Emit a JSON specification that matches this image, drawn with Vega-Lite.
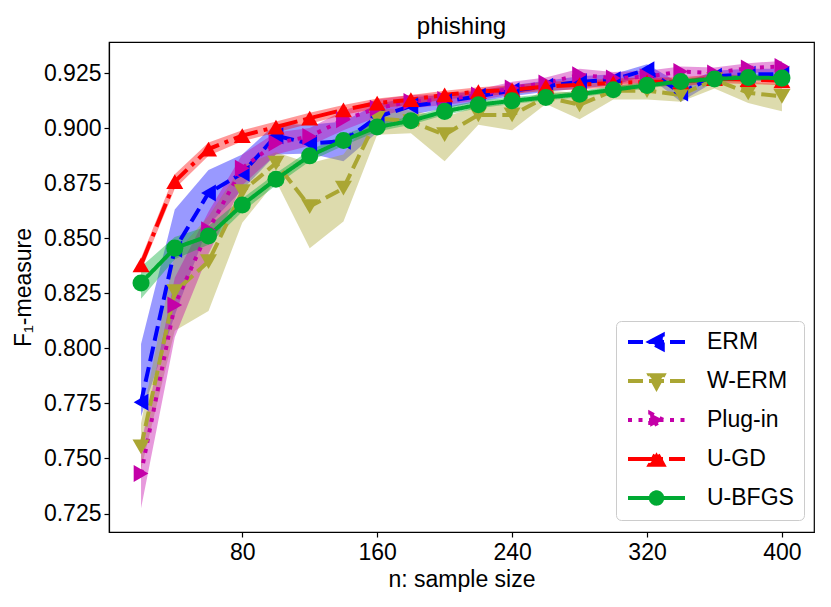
{
  "$schema": "https://vega.github.io/schema/vega-lite/v6.json",
  "width": 705,
  "height": 490,
  "autosize": {"type": "none"},
  "padding": {"left": 109, "top": 42, "right": 17, "bottom": 75},
  "background": "white",
  "title": {"text": "phishing", "fontSize": 24, "font": "Liberation Sans", "fontWeight": "normal", "color": "black", "offset": 3},
  "config": {
    "view": {"stroke": "black", "strokeWidth": 1.2},
    "axis": {
      "grid": false, "labelFont": "Liberation Sans", "titleFont": "Liberation Sans",
      "labelFontSize": 23, "titleFontSize": 23, "titleFontWeight": "normal",
      "labelColor": "black", "titleColor": "black", "domainColor": "black", "tickColor": "black",
      "tickSize": 5, "tickWidth": 1.2, "domainWidth": 1.2
    }
  },
  "data": {
    "values": [
      {"n": 20, "m": "ERM", "f": 0.7755, "lo": 0.769, "hi": 0.802},
      {"n": 40, "m": "ERM", "f": 0.845, "lo": 0.815, "hi": 0.863},
      {"n": 60, "m": "ERM", "f": 0.8705, "lo": 0.856, "hi": 0.881},
      {"n": 80, "m": "ERM", "f": 0.8795, "lo": 0.872, "hi": 0.888},
      {"n": 100, "m": "ERM", "f": 0.8965, "lo": 0.888, "hi": 0.902},
      {"n": 120, "m": "ERM", "f": 0.893, "lo": 0.8885, "hi": 0.9015},
      {"n": 140, "m": "ERM", "f": 0.894, "lo": 0.885, "hi": 0.903},
      {"n": 160, "m": "ERM", "f": 0.905, "lo": 0.898, "hi": 0.911},
      {"n": 180, "m": "ERM", "f": 0.91, "lo": 0.906, "hi": 0.914},
      {"n": 200, "m": "ERM", "f": 0.912, "lo": 0.909, "hi": 0.915},
      {"n": 220, "m": "ERM", "f": 0.9145, "lo": 0.912, "hi": 0.917},
      {"n": 240, "m": "ERM", "f": 0.917, "lo": 0.9145, "hi": 0.9195},
      {"n": 260, "m": "ERM", "f": 0.919, "lo": 0.9165, "hi": 0.9215},
      {"n": 280, "m": "ERM", "f": 0.921, "lo": 0.918, "hi": 0.9235},
      {"n": 300, "m": "ERM", "f": 0.922, "lo": 0.9195, "hi": 0.9245},
      {"n": 320, "m": "ERM", "f": 0.9265, "lo": 0.924, "hi": 0.929},
      {"n": 340, "m": "ERM", "f": 0.916, "lo": 0.912, "hi": 0.92},
      {"n": 360, "m": "ERM", "f": 0.9235, "lo": 0.921, "hi": 0.926},
      {"n": 380, "m": "ERM", "f": 0.9245, "lo": 0.922, "hi": 0.927},
      {"n": 400, "m": "ERM", "f": 0.9245, "lo": 0.922, "hi": 0.927},
      {"n": 20, "m": "W-ERM", "f": 0.7553, "lo": 0.745, "hi": 0.766},
      {"n": 40, "m": "W-ERM", "f": 0.8257, "lo": 0.808, "hi": 0.843},
      {"n": 60, "m": "W-ERM", "f": 0.8394, "lo": 0.817, "hi": 0.86},
      {"n": 80, "m": "W-ERM", "f": 0.8712, "lo": 0.857, "hi": 0.883},
      {"n": 100, "m": "W-ERM", "f": 0.8841, "lo": 0.876, "hi": 0.889},
      {"n": 120, "m": "W-ERM", "f": 0.8644, "lo": 0.8455, "hi": 0.884},
      {"n": 140, "m": "W-ERM", "f": 0.8727, "lo": 0.8576, "hi": 0.888},
      {"n": 160, "m": "W-ERM", "f": 0.9045, "lo": 0.897, "hi": 0.909},
      {"n": 180, "m": "W-ERM", "f": 0.903, "lo": 0.8977, "hi": 0.908},
      {"n": 200, "m": "W-ERM", "f": 0.897, "lo": 0.885, "hi": 0.905},
      {"n": 220, "m": "W-ERM", "f": 0.906, "lo": 0.9015, "hi": 0.91},
      {"n": 240, "m": "W-ERM", "f": 0.906, "lo": 0.899, "hi": 0.911},
      {"n": 260, "m": "W-ERM", "f": 0.914, "lo": 0.911, "hi": 0.917},
      {"n": 280, "m": "W-ERM", "f": 0.9106, "lo": 0.904, "hi": 0.916},
      {"n": 300, "m": "W-ERM", "f": 0.917, "lo": 0.913, "hi": 0.919},
      {"n": 320, "m": "W-ERM", "f": 0.917, "lo": 0.913, "hi": 0.92},
      {"n": 340, "m": "W-ERM", "f": 0.9151, "lo": 0.912, "hi": 0.919},
      {"n": 360, "m": "W-ERM", "f": 0.922, "lo": 0.918, "hi": 0.924},
      {"n": 380, "m": "W-ERM", "f": 0.916, "lo": 0.9114, "hi": 0.921},
      {"n": 400, "m": "W-ERM", "f": 0.9144, "lo": 0.9076, "hi": 0.92},
      {"n": 20, "m": "Plug-in", "f": 0.7432, "lo": 0.7274, "hi": 0.756},
      {"n": 40, "m": "Plug-in", "f": 0.8197, "lo": 0.805, "hi": 0.832},
      {"n": 60, "m": "Plug-in", "f": 0.8538, "lo": 0.843, "hi": 0.862},
      {"n": 80, "m": "Plug-in", "f": 0.8818, "lo": 0.874, "hi": 0.888},
      {"n": 100, "m": "Plug-in", "f": 0.8932, "lo": 0.888, "hi": 0.898},
      {"n": 120, "m": "Plug-in", "f": 0.8962, "lo": 0.892, "hi": 0.9},
      {"n": 140, "m": "Plug-in", "f": 0.9038, "lo": 0.899, "hi": 0.908},
      {"n": 160, "m": "Plug-in", "f": 0.909, "lo": 0.905, "hi": 0.913},
      {"n": 180, "m": "Plug-in", "f": 0.9121, "lo": 0.909, "hi": 0.915},
      {"n": 200, "m": "Plug-in", "f": 0.913, "lo": 0.9105, "hi": 0.9155},
      {"n": 220, "m": "Plug-in", "f": 0.915, "lo": 0.9125, "hi": 0.9175},
      {"n": 240, "m": "Plug-in", "f": 0.9182, "lo": 0.9155, "hi": 0.921},
      {"n": 260, "m": "Plug-in", "f": 0.9205, "lo": 0.918, "hi": 0.923},
      {"n": 280, "m": "Plug-in", "f": 0.9242, "lo": 0.9215, "hi": 0.927},
      {"n": 300, "m": "Plug-in", "f": 0.9227, "lo": 0.92, "hi": 0.9255},
      {"n": 320, "m": "Plug-in", "f": 0.9233, "lo": 0.9205, "hi": 0.926},
      {"n": 340, "m": "Plug-in", "f": 0.9257, "lo": 0.923, "hi": 0.928},
      {"n": 360, "m": "Plug-in", "f": 0.925, "lo": 0.9225, "hi": 0.9275},
      {"n": 380, "m": "Plug-in", "f": 0.9273, "lo": 0.925, "hi": 0.9295},
      {"n": 400, "m": "Plug-in", "f": 0.928, "lo": 0.9255, "hi": 0.9305},
      {"n": 20, "m": "U-GD", "f": 0.8379, "lo": 0.835, "hi": 0.841},
      {"n": 40, "m": "U-GD", "f": 0.8757, "lo": 0.8725, "hi": 0.879},
      {"n": 60, "m": "U-GD", "f": 0.8905, "lo": 0.8875, "hi": 0.8935},
      {"n": 80, "m": "U-GD", "f": 0.8966, "lo": 0.894, "hi": 0.899},
      {"n": 100, "m": "U-GD", "f": 0.9005, "lo": 0.898, "hi": 0.903},
      {"n": 120, "m": "U-GD", "f": 0.9045, "lo": 0.902, "hi": 0.907},
      {"n": 140, "m": "U-GD", "f": 0.9083, "lo": 0.906, "hi": 0.9105},
      {"n": 160, "m": "U-GD", "f": 0.9114, "lo": 0.909, "hi": 0.9135},
      {"n": 180, "m": "U-GD", "f": 0.9129, "lo": 0.9105, "hi": 0.915},
      {"n": 200, "m": "U-GD", "f": 0.9151, "lo": 0.913, "hi": 0.917},
      {"n": 220, "m": "U-GD", "f": 0.9166, "lo": 0.9145, "hi": 0.9185},
      {"n": 240, "m": "U-GD", "f": 0.9174, "lo": 0.9155, "hi": 0.9195},
      {"n": 260, "m": "U-GD", "f": 0.9189, "lo": 0.917, "hi": 0.921},
      {"n": 280, "m": "U-GD", "f": 0.9197, "lo": 0.9175, "hi": 0.9215},
      {"n": 300, "m": "U-GD", "f": 0.9205, "lo": 0.9185, "hi": 0.9225},
      {"n": 320, "m": "U-GD", "f": 0.921, "lo": 0.919, "hi": 0.923},
      {"n": 340, "m": "U-GD", "f": 0.921, "lo": 0.919, "hi": 0.923},
      {"n": 360, "m": "U-GD", "f": 0.9225, "lo": 0.9205, "hi": 0.9245},
      {"n": 380, "m": "U-GD", "f": 0.922, "lo": 0.92, "hi": 0.924},
      {"n": 400, "m": "U-GD", "f": 0.9215, "lo": 0.9195, "hi": 0.9235},
      {"n": 20, "m": "U-BFGS", "f": 0.8297, "lo": 0.8225, "hi": 0.837},
      {"n": 40, "m": "U-BFGS", "f": 0.8455, "lo": 0.8405, "hi": 0.8505},
      {"n": 60, "m": "U-BFGS", "f": 0.851, "lo": 0.847, "hi": 0.8555},
      {"n": 80, "m": "U-BFGS", "f": 0.8651, "lo": 0.862, "hi": 0.868},
      {"n": 100, "m": "U-BFGS", "f": 0.8768, "lo": 0.874, "hi": 0.8795},
      {"n": 120, "m": "U-BFGS", "f": 0.8874, "lo": 0.885, "hi": 0.89},
      {"n": 140, "m": "U-BFGS", "f": 0.8944, "lo": 0.892, "hi": 0.897},
      {"n": 160, "m": "U-BFGS", "f": 0.9005, "lo": 0.8985, "hi": 0.9025},
      {"n": 180, "m": "U-BFGS", "f": 0.9033, "lo": 0.9015, "hi": 0.905},
      {"n": 200, "m": "U-BFGS", "f": 0.9076, "lo": 0.906, "hi": 0.9095},
      {"n": 220, "m": "U-BFGS", "f": 0.9106, "lo": 0.909, "hi": 0.9125},
      {"n": 240, "m": "U-BFGS", "f": 0.9124, "lo": 0.911, "hi": 0.914},
      {"n": 260, "m": "U-BFGS", "f": 0.9139, "lo": 0.9125, "hi": 0.9155},
      {"n": 280, "m": "U-BFGS", "f": 0.9154, "lo": 0.914, "hi": 0.917},
      {"n": 300, "m": "U-BFGS", "f": 0.9174, "lo": 0.916, "hi": 0.919},
      {"n": 320, "m": "U-BFGS", "f": 0.9194, "lo": 0.918, "hi": 0.921},
      {"n": 340, "m": "U-BFGS", "f": 0.9212, "lo": 0.92, "hi": 0.9225},
      {"n": 360, "m": "U-BFGS", "f": 0.9223, "lo": 0.921, "hi": 0.9235},
      {"n": 380, "m": "U-BFGS", "f": 0.923, "lo": 0.9215, "hi": 0.9245},
      {"n": 400, "m": "U-BFGS", "f": 0.9227, "lo": 0.921, "hi": 0.9245}
    ]
  },
  "encoding": {
    "x": {
      "field": "n", "type": "quantitative",
      "scale": {"domain": [1, 419], "nice": false, "zero": false},
      "axis": {"values": [80, 160, 240, 320, 400], "title": "n: sample size", "labelPadding": 4, "titlePadding": 4}
    },
    "color": {
      "field": "m", "type": "nominal", "legend": null,
      "scale": {"domain": ["ERM", "W-ERM", "Plug-in", "U-GD", "U-BFGS"], "range": ["#0000ff", "#aaa633", "#c400a8", "#ff0000", "#00aa33"]}
    }
  },
  "layer": [
    {
      "mark": {"type": "area", "opacity": 0.4, "clip": true},
      "encoding": {
        "y": {
          "field": "lo", "type": "quantitative", "stack": null,
          "scale": {"domain": [0.7166, 0.9391], "nice": false, "zero": false},
          "axis": {"values": [0.725, 0.75, 0.775, 0.8, 0.825, 0.85, 0.875, 0.9, 0.925], "format": ".3f", "title": "F₁-measure", "labelPadding": 3, "titlePadding": 8}
        },
        "y2": {"field": "hi"}
      }
    },
    {
      "mark": {"type": "line", "strokeWidth": 4},
      "encoding": {
        "y": {"field": "f", "type": "quantitative"},
        "strokeDash": {
          "field": "m", "type": "nominal", "legend": null,
          "scale": {"domain": ["ERM", "W-ERM", "Plug-in", "U-GD", "U-BFGS"], "range": [[15, 6], [15, 6], [4, 6.5], [25, 6, 4, 6], [1, 0]]}
        }
      }
    },
    {
      "mark": {"type": "point", "filled": true, "opacity": 1, "size": 290},
      "encoding": {
        "y": {"field": "f", "type": "quantitative"},
        "shape": {
          "field": "m", "type": "nominal", "legend": null,
          "scale": {"domain": ["ERM", "W-ERM", "Plug-in", "U-GD", "U-BFGS"], "range": ["triangle-left", "triangle-down", "triangle-right", "triangle-up", "circle"]}
        }
      }
    },
    {
      "mark": {"type": "point", "filled": true, "opacity": 0, "size": 3249},
      "encoding": {
        "y": {"field": "f", "type": "quantitative"},
        "shape": {
          "field": "m", "type": "nominal",
          "scale": {
            "domain": ["ERM", "W-ERM", "Plug-in", "U-GD", "U-BFGS"],
            "range": [
              "M-1,0H1M0.22,-0.24L-0.24,0L0.22,0.24Z",
              "M-0.24,-0.2L0.24,-0.2L0,0.24ZM-1,0H1",
              "M-1,0H1M-0.22,-0.24L0.24,0L-0.22,0.24Z",
              "M-1,0H1M-0.24,0.2L0.24,0.2L0,-0.24Z",
              "M-1,0H1M0.2,0A0.2,0.2,0,1,1,-0.2,0A0.2,0.2,0,1,1,0.2,0Z"
            ]
          },
          "legend": {
            "title": null, "orient": "none", "legendX": 507, "legendY": 279,
            "symbolSize": 3249, "symbolStrokeWidth": 4, "symbolOpacity": 1, "clipHeight": 22, "rowPadding": 16,
            "symbolFillColor": {"expr": "datum.value === 'ERM' ? '#0000ff' : datum.value === 'W-ERM' ? '#aaa633' : datum.value === 'Plug-in' ? '#c400a8' : datum.value === 'U-GD' ? '#ff0000' : '#00aa33'"},
            "symbolStrokeColor": {"expr": "datum.value === 'ERM' ? '#0000ff' : datum.value === 'W-ERM' ? '#aaa633' : datum.value === 'Plug-in' ? '#c400a8' : datum.value === 'U-GD' ? '#ff0000' : '#00aa33'"},
            "symbolDash": {"expr": "datum.value === 'ERM' || datum.value === 'W-ERM' ? [15, 6] : datum.value === 'Plug-in' ? [4, 6.5] : datum.value === 'U-GD' ? [25, 6, 4, 6] : [1, 0]"},
            "labelFont": "Liberation Sans", "labelFontSize": 23, "labelColor": "black", "labelOffset": 20,
            "padding": 10, "fillColor": "white", "strokeColor": "#cccccc", "cornerRadius": 5
          }
        }
      }
    }
  ],
  "resolve": {"scale": {"shape": "independent"}, "legend": {"shape": "independent"}}
}
